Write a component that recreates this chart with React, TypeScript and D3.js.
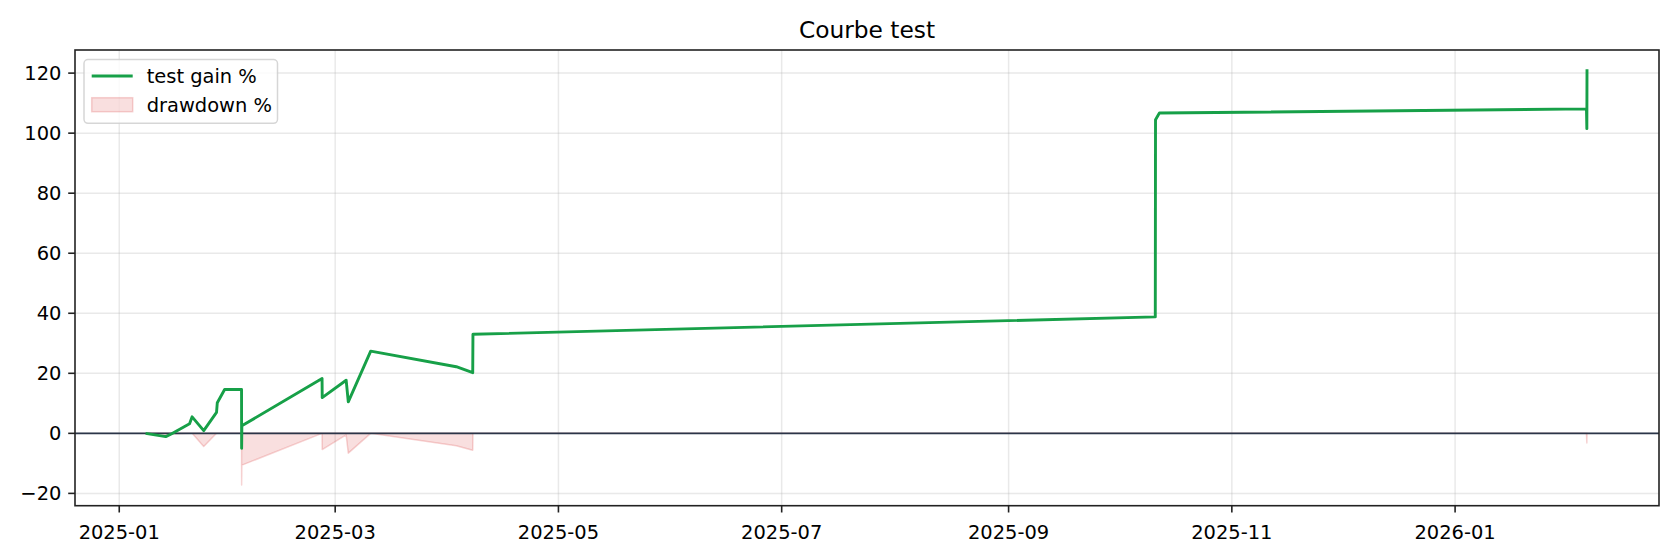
import React, { useEffect } from "react";
import * as d3 from "d3";

// ---- Data ----
const dates: string[] = [
  "2025-01-08T14:00Z", "2025-01-13T17:00Z", "2025-01-15T05:00Z", "2025-01-20T05:00Z",
  "2025-01-20T22:00Z", "2025-01-24T02:00Z", "2025-01-27T14:00Z", "2025-01-27T19:00Z",
  "2025-01-29T19:00Z", "2025-02-03T10:00Z", "2025-02-03T10:30Z", "2025-02-03T12:00Z",
  "2025-02-25T10:00Z", "2025-02-25T11:00Z", "2025-03-04T00:00Z", "2025-03-04T14:00Z",
  "2025-03-10T17:00Z", "2025-04-03T02:00Z", "2025-04-07T14:00Z", "2025-04-07T15:30Z",
  "2025-10-11T02:00Z", "2025-10-11T03:30Z", "2025-10-12T05:00Z", "2026-02-05T21:30Z",
  "2026-02-06T00:00Z", "2026-02-06T01:00Z",
];
const gainPct: number[] = [
  -0.1, -1.1, -0.2, 3.2,
  5.5, 0.9, 7.0, 10.2,
  14.6, 14.6, -5.0, 2.5,
  18.3, 11.9, 17.7, 10.5,
  27.4, 22.2, 20.2, 33.0,
  38.8, 104.5, 106.7, 108.1,
  101.5, 120.8,
];
const drawdownPct: number[] = [
  0, -1.1, -0.2, 0,
  0, -4.4, 0, 0,
  0, 0, -17.2, -10.6,
  0, -5.4, -0.5, -6.6,
  0, -4.1, -5.6, 0,
  0, 0, 0, 0,
  -3.2, 0,
];
const yTicks: number[] = [-20, 0, 20, 40, 60, 80, 100, 120];
const xTickLabels: string[] = ["2025-01", "2025-03", "2025-05", "2025-07", "2025-09", "2025-11", "2026-01"];
const titleText = "Courbe test";
const seriesLabels: string[] = ["test gain %", "drawdown %"];

const W = 1680;
const H = 560;
const M = { left: 75, right: 21, top: 50, bottom: 54.3 };
const FONT = "DejaVu Sans, Verdana, sans-serif";
const GREEN = "#17a048";
const RED_FILL = "rgba(214,39,40,0.15)";
const RED_EDGE = "rgba(214,39,40,0.2)";

export default function App() {
  useEffect(() => {
    document.body.style.margin = "0";
  }, []);

  const pts = dates.map((d, i) => ({ t: new Date(d), g: gainPct[i], dd: drawdownPct[i] }));
  const [t0, t1] = d3.extent(pts, (p) => p.t.getTime()) as [number, number];
  const tPad = (t1 - t0) * 0.05;
  const allY = [...gainPct, ...drawdownPct, 0];
  const yMin = d3.min(allY) as number;
  const yMax = d3.max(allY) as number;
  const yPad = (yMax - yMin) * 0.05;

  const x = d3.scaleUtc().domain([t0 - tPad, t1 + tPad]).range([M.left, W - M.right]);
  const y = d3.scaleLinear().domain([yMin - yPad, yMax + yPad]).range([H - M.bottom, M.top]);

  const line = d3.line<typeof pts[0]>().x((p) => x(p.t)).y((p) => y(p.g));
  const area = d3
    .area<typeof pts[0]>()
    .x((p) => x(p.t))
    .y0(() => y(0))
    .y1((p) => y(p.dd));

  const xTicks = xTickLabels.map((s) => new Date(s + "-01T00:00Z"));
  const x0 = M.left;
  const x1 = W - M.right;
  const yb = H - M.bottom;
  const yt = M.top;

  return (
    <svg width={W} height={H} style={{ display: "block", background: "#fff" }} fontFamily={FONT}>
      <rect x={0} y={0} width={W} height={H} fill="#fff" />
      <defs>
        <clipPath id="plotclip">
          <rect x={x0} y={yt} width={x1 - x0} height={yb - yt} />
        </clipPath>
      </defs>
      {/* grid */}
      <g stroke="#b0b0b0" strokeOpacity={0.28} strokeWidth={1.5}>
        {xTicks.map((t, i) => (
          <line key={"gx" + i} x1={x(t)} x2={x(t)} y1={yt} y2={yb} />
        ))}
        {yTicks.map((v, i) => (
          <line key={"gy" + i} x1={x0} x2={x1} y1={y(v)} y2={y(v)} />
        ))}
      </g>
      <g clipPath="url(#plotclip)">
        <path d={area(pts) || ""} fill={RED_FILL} stroke={RED_EDGE} strokeWidth={1.5} strokeLinejoin="round" />
        <line x1={x0} x2={x1} y1={y(0)} y2={y(0)} stroke="#2b3548" strokeWidth={1.6} />
        <path d={line(pts) || ""} fill="none" stroke={GREEN} strokeWidth={2.9} strokeLinejoin="round" strokeLinecap="square" />
      </g>
      {/* spines */}
      <rect x={x0} y={yt} width={x1 - x0} height={yb - yt} fill="none" stroke="#222" strokeWidth={1.6} />
      {/* y ticks */}
      <g>
        {yTicks.map((v, i) => (
          <g key={"yt" + i}>
            <line x1={x0 - 6.8} x2={x0} y1={y(v)} y2={y(v)} stroke="#222" strokeWidth={1.6} />
            <text x={x0 - 13.6} y={y(v)} dy="0.36em" textAnchor="end" fontSize={19.44} fill="#000">
              {v < 0 ? "\u2212" + Math.abs(v) : String(v)}
            </text>
          </g>
        ))}
      </g>
      {/* x ticks */}
      <g>
        {xTicks.map((t, i) => (
          <g key={"xt" + i}>
            <line x1={x(t)} x2={x(t)} y1={yb} y2={yb + 6.8} stroke="#222" strokeWidth={1.6} />
            <text x={x(t)} y={539} textAnchor="middle" fontSize={19.44} fill="#000">
              {xTickLabels[i]}
            </text>
          </g>
        ))}
      </g>
      {/* title */}
      <text x={(x0 + x1) / 2} y={38.3} textAnchor="middle" fontSize={23.3} fill="#000">
        {titleText}
      </text>
      {/* legend */}
      <g>
        <rect x={84} y={59.5} width={193.5} height={63.8} rx={4} ry={4} fill="#fff" fillOpacity={0.8} stroke="#cccccc" strokeOpacity={0.8} strokeWidth={1.5} />
        <line x1={91.7} x2={132.7} y1={76} y2={76} stroke={GREEN} strokeWidth={2.9} />
        <text x={146.7} y={82.8} fontSize={19.44} fill="#000">{seriesLabels[0]}</text>
        <rect x={91.7} y={97.7} width={41} height={14} fill={RED_FILL} stroke={RED_EDGE} strokeWidth={1.5} />
        <text x={146.7} y={111.7} fontSize={19.44} fill="#000">{seriesLabels[1]}</text>
      </g>
    </svg>
  );
}
